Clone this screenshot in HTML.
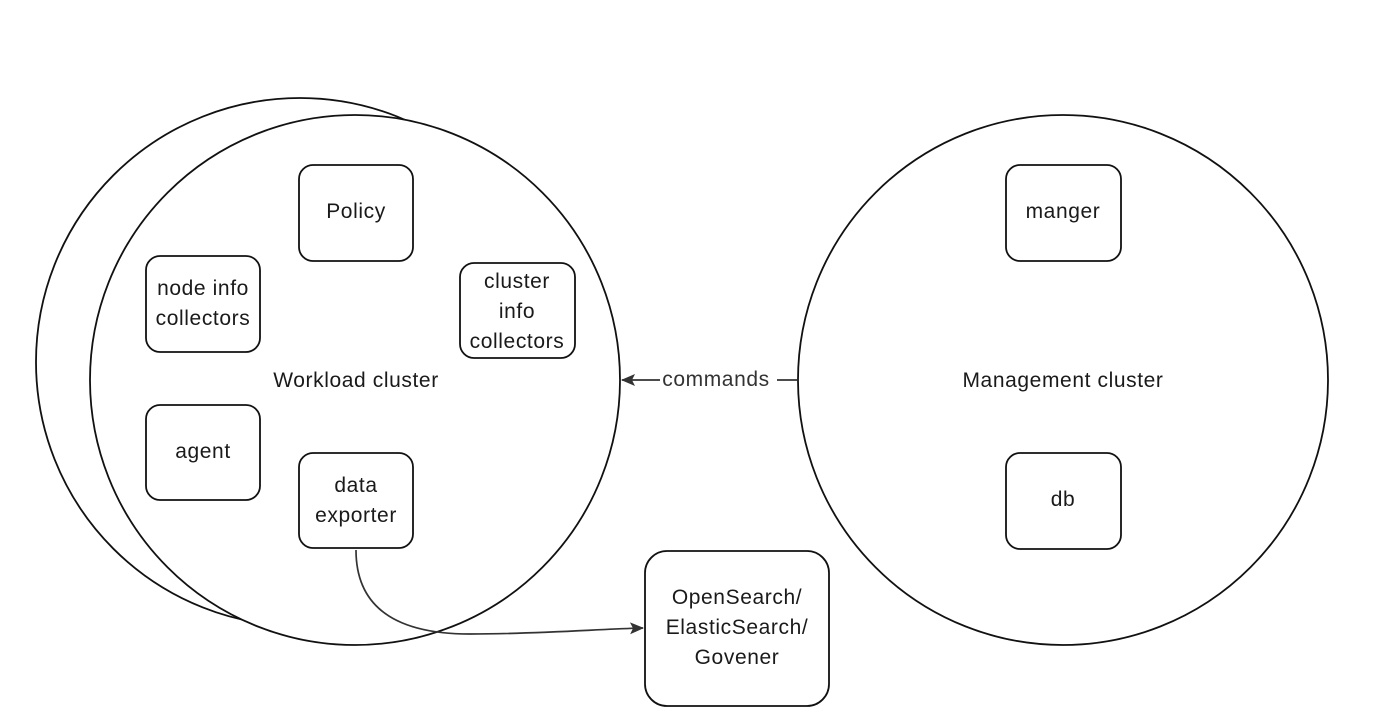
<!DOCTYPE html>
<html><head><style>
html,body{margin:0;padding:0;background:#fff;}
svg{display:block;}
text{font-family:"Liberation Sans",sans-serif;font-size:21px;letter-spacing:0.6px;fill:#1a1a1a;text-anchor:middle;}
</style></head><body>
<svg width="1383" height="722" viewBox="0 0 1383 722" xmlns="http://www.w3.org/2000/svg">
<defs><marker id="a" markerWidth="14" markerHeight="12" refX="13" refY="6" orient="auto" markerUnits="userSpaceOnUse"><path d="M0,0 L14,6 L0,12 L3,6 Z" fill="#333"/></marker></defs>
<g stroke="#111" stroke-width="1.8" fill="#fff">
<circle cx="300" cy="362" r="264"/>
<circle cx="355" cy="380" r="265"/>
<circle cx="1063" cy="380" r="265"/>
<rect x="299" y="165" width="114" height="96" rx="14"/>
<rect x="146" y="256" width="114" height="96" rx="14"/>
<rect x="460" y="263" width="115" height="95" rx="14"/>
<rect x="146" y="405" width="114" height="95" rx="14"/>
<rect x="299" y="453" width="114" height="95" rx="14"/>
<rect x="1006" y="165" width="115" height="96" rx="14"/>
<rect x="1006" y="453" width="115" height="96" rx="14"/>
<rect x="645" y="551" width="184" height="155" rx="22"/>
</g>
<g stroke="#333" stroke-width="1.7" fill="none">
<path d="M356,550 C356,610 400,634 470,634 C540,634 600,629 643,628" marker-end="url(#a)"/>
<line x1="797" y1="380" x2="777" y2="380"/>
<line x1="660" y1="380" x2="622" y2="380" marker-end="url(#a)"/>
</g>
<text x="356" y="218">Policy</text>
<text x="203" y="295">node info</text>
<text x="203" y="325">collectors</text>
<text x="517" y="288">cluster</text>
<text x="517" y="318">info</text>
<text x="517" y="348">collectors</text>
<text x="356" y="387">Workload cluster</text>
<text x="203" y="458">agent</text>
<text x="356" y="492">data</text>
<text x="356" y="522">exporter</text>
<text x="716" y="386" style="fill:#333">commands</text>
<text x="1063" y="218">manger</text>
<text x="1063" y="387">Management cluster</text>
<text x="1063" y="506">db</text>
<text x="737" y="604">OpenSearch/</text>
<text x="737" y="634">ElasticSearch/</text>
<text x="737" y="664">Govener</text>
</svg>
</body></html>
